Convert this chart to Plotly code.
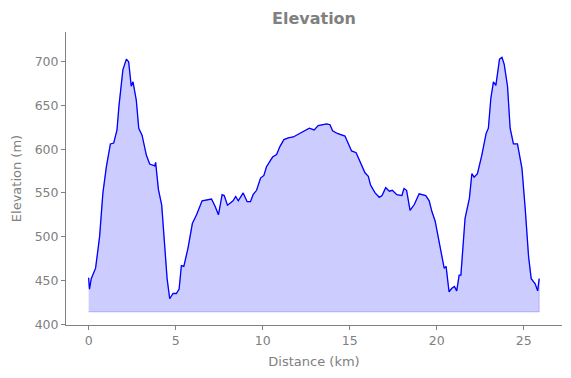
import plotly.graph_objects as go

distance_km = [0.0, 0.05, 0.15, 0.4, 0.63, 0.82, 1.02, 1.25, 1.44, 1.63, 1.74, 1.97, 2.17, 2.3,
               2.45, 2.55, 2.74, 2.88, 3.07, 3.32, 3.51, 3.8, 3.85, 4.01, 4.2, 4.51, 4.66, 4.85,
               5.04, 5.2, 5.33, 5.47, 5.71, 5.96, 6.2, 6.52, 7.06, 7.26, 7.46, 7.67, 7.79, 7.98,
               8.3, 8.45, 8.6, 8.88, 9.11, 9.3, 9.45, 9.65, 9.88, 10.07, 10.22, 10.57, 10.8,
               10.99, 11.22, 11.47, 11.76, 12.04, 12.33, 12.68, 12.96, 13.19, 13.68, 13.87,
               14.02, 14.29, 14.73, 15.11, 15.37, 15.69, 15.88, 16.07, 16.2, 16.46, 16.7, 16.86,
               17.07, 17.28, 17.45, 17.71, 18.0, 18.12, 18.27, 18.47, 18.72, 18.99, 19.37,
               19.57, 19.72, 19.91, 20.2, 20.43, 20.54, 20.71, 20.87, 21.02, 21.15, 21.29,
               21.39, 21.63, 21.88, 22.02, 22.15, 22.34, 22.59, 22.84, 22.97, 23.11, 23.26,
               23.4, 23.61, 23.75, 23.88, 24.07, 24.22, 24.41, 24.64, 24.9, 25.09, 25.28,
               25.43, 25.66, 25.8, 25.89]
elevation_m = [453, 440, 452, 464, 500, 550, 580, 606, 607, 622, 649, 691, 703, 700,
               672, 677, 656, 624, 616, 593, 583, 581, 585, 554, 536, 452, 429, 435,
               435, 440, 467, 466, 487, 515, 525, 541, 543, 535, 525, 548, 547, 536,
               541, 546, 541, 550, 540, 540, 548, 553, 567, 570, 580, 591, 594,
               603, 611, 613, 614, 617, 620, 624, 622, 627, 629, 628,
               621, 618, 615, 598, 596, 582, 573, 569, 559, 550, 545, 547,
               556, 552, 553, 548, 547, 555, 553, 530, 537, 549, 547,
               541, 529, 518, 489, 464, 466, 437, 441, 443, 438, 456,
               456, 521, 544, 572, 568, 572, 593, 618, 624, 658, 677,
               673, 703, 705, 697, 672, 624, 606, 606, 578, 531, 477,
               452, 446, 438, 452]
baseline_m = 414
x_ticks = [0, 5, 10, 15, 20, 25]
y_ticks = [400, 450, 500, 550, 600, 650, 700]

gray = "#808080"
font = "DejaVu Sans"
L, R, T, B = 66, 9, 32, 53
W, H = 571, 378

fig = go.Figure()
fig.add_trace(go.Scatter(
    x=distance_km + [distance_km[-1], distance_km[0]],
    y=elevation_m + [baseline_m, baseline_m],
    fill="toself", fillcolor="rgba(0,0,255,0.2)",
    line=dict(color="rgba(0,0,255,0.2)", width=1),
    mode="lines", hoverinfo="skip", showlegend=False))
fig.add_trace(go.Scatter(
    x=distance_km, y=elevation_m, mode="lines",
    line=dict(color="blue", width=1.3), showlegend=False))

fig.update_layout(
    width=W, height=H,
    margin=dict(l=L, r=R, t=T, b=B, autoexpand=False),
    paper_bgcolor="white", plot_bgcolor="white",
    font=dict(family=font, color=gray, size=12.5),
    title=dict(text="<b>Elevation</b>", x=(L + (W - L - R) / 2) / W, xref="container",
               xanchor="center", y=1 - 18 / H, yref="container", yanchor="middle",
               font=dict(size=16, color=gray, family=font), automargin=False),
)
axis_common = dict(showgrid=False, zeroline=False, showline=True, linecolor=gray, linewidth=1,
                   ticks="outside", ticklen=4, tickcolor=gray, automargin=False,
                   tickfont=dict(size=12.5, color=gray, family=font))
fig.update_xaxes(range=[-1.3, 27.2], tickvals=x_ticks,
                 title=dict(text="Distance (km)", standoff=9, font=dict(size=13, color=gray, family=font)),
                 **axis_common)
fig.update_yaxes(range=[399, 734], tickvals=y_ticks,
                 title=dict(text="Elevation (m)", standoff=10, font=dict(size=13, color=gray, family=font)),
                 **axis_common)

fig.write_html("out.html", config={"displayModeBar": False},
               post_script="document.body.style.margin='0px';")
